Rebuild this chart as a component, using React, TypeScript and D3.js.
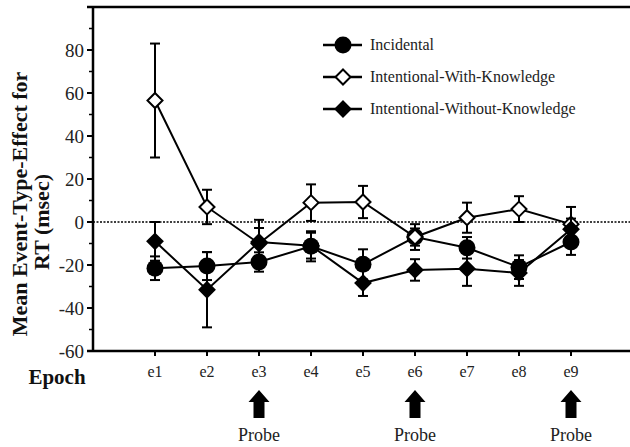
import React from "react";
import * as d3 from "d3";

const epochs = ["e1", "e2", "e3", "e4", "e5", "e6", "e7", "e8", "e9"];
const yTicks = [-60, -40, -20, 0, 20, 40, 60, 80];
const yMinorTicks = [-50, -30, -10, 10, 30, 50, 70, 90];
const probeEpochs = ["e3", "e6", "e9"];

const incidental = [-21.5, -20.5, -18.6, -11.3, -19.7, -7, -12, -21, -9.3];
const incidentalErr = [5.5, 6.5, 4.5, 7, 7, 4, 5, 5.5, 6];
const withKnowledge = [56.5, 7, -10, 9, 9.3, -7, 2, 6, -1];
const withKnowledgeErr = [26.5, 8, 11, 8.5, 7.5, 6, 7, 6, 8];
const withoutKnowledge = [-9, -31.5, -9.3, -11, -28.4, -22.3, -21.7, -23.7, -3.4];
const withoutKnowledgeErr = [9, 17.5, 6.5, 6, 6, 5, 8, 6, 5];

type Marker = "circle" | "openDiamond" | "diamond";
const series: { name: string; values: number[]; err: number[]; marker: Marker }[] = [
  { name: "Incidental", values: incidental, err: incidentalErr, marker: "circle" },
  { name: "Intentional-With-Knowledge", values: withKnowledge, err: withKnowledgeErr, marker: "openDiamond" },
  { name: "Intentional-Without-Knowledge", values: withoutKnowledge, err: withoutKnowledgeErr, marker: "diamond" },
];

const W = 630;
const H = 447;
const left = 93;
const top = 7;
const bottom = 351;

const x = d3.scalePoint<string>().domain(epochs).range([155, 571]);
const y = d3.scaleLinear().domain([-60, 100]).range([bottom, top]);

function MarkerShape({ type, cx, cy }: { type: Marker; cx: number; cy: number }) {
  if (type === "circle") return <circle cx={cx} cy={cy} r={8.5} fill="#000" />;
  const r = 7.5;
  const d = `M${cx},${cy - r}L${cx + r},${cy}L${cx},${cy + r}L${cx - r},${cy}Z`;
  return (
    <path
      d={d}
      fill={type === "openDiamond" ? "#fff" : "#000"}
      stroke="#000"
      strokeWidth={2}
    />
  );
}

export default function App() {
  const line = d3
    .line<number>()
    .x((_, i) => x(epochs[i])!)
    .y((v) => y(v));
  const serif = "Liberation Serif, Times New Roman, serif";
  const legendY = [45, 77, 109];
  return (
    <svg
      width={W}
      height={H}
      style={{ position: "absolute", left: 0, top: 0, background: "#fff" }}
      fontFamily={serif}
    >
      <rect width={W} height={H} fill="#fff" />
      {/* zero line */}
      <line x1={left} x2={W} y1={y(0)} y2={y(0)} stroke="#000" strokeWidth={1.5} strokeDasharray="2,1.5" />
      {/* frame */}
      <line x1={left - 6} x2={W} y1={top} y2={top} stroke="#000" strokeWidth={2.5} />
      <line x1={left} x2={left} y1={top} y2={bottom} stroke="#000" strokeWidth={2.5} />
      <line x1={left - 6} x2={W} y1={bottom} y2={bottom} stroke="#000" strokeWidth={2.5} />
      {/* y ticks */}
      {yTicks.map((t) => (
        <g key={t}>
          <line x1={left - 6} x2={left} y1={y(t)} y2={y(t)} stroke="#000" strokeWidth={2} />
          <text x={left - 9} y={y(t)} dy="0.35em" textAnchor="end" fontSize={19} fill="#222">
            {t}
          </text>
        </g>
      ))}
      {yMinorTicks.map((t) => (
        <line key={t} x1={left - 4} x2={left} y1={y(t)} y2={y(t)} stroke="#000" strokeWidth={1.5} />
      ))}
      {/* x ticks */}
      {epochs.map((e) => (
        <g key={e}>
          <line x1={x(e)!} x2={x(e)!} y1={bottom} y2={bottom + 5} stroke="#000" strokeWidth={2} />
          <text x={x(e)!} y={377} textAnchor="middle" fontSize={16} fill="#222">
            {e}
          </text>
        </g>
      ))}
      <text x={57} y={384} textAnchor="middle" fontSize={21} fontWeight="bold" fill="#111">
        Epoch
      </text>
      {/* y title */}
      <text
        transform={`translate(27,204) rotate(-90)`}
        textAnchor="middle"
        fontSize={22}
        fontWeight="bold"
        fill="#111"
      >
        Mean Event-Type-Effect for
      </text>
      <text
        transform={`translate(49,222) rotate(-90)`}
        textAnchor="middle"
        fontSize={22}
        fontWeight="bold"
        fill="#111"
      >
        RT (msec)
      </text>
      {/* series */}
      {series.map((s) => (
        <g key={s.name}>
          <path d={line(s.values)!} fill="none" stroke="#000" strokeWidth={2} />
          {s.values.map((v, i) => {
            const cx = x(epochs[i])!;
            const y1 = y(v + s.err[i]);
            const y2 = y(v - s.err[i]);
            return (
              <g key={i}>
                <line x1={cx} x2={cx} y1={y1} y2={y2} stroke="#000" strokeWidth={2} />
                <line x1={cx - 5} x2={cx + 5} y1={y1} y2={y1} stroke="#000" strokeWidth={2} />
                <line x1={cx - 5} x2={cx + 5} y1={y2} y2={y2} stroke="#000" strokeWidth={2} />
              </g>
            );
          })}
          {s.values.map((v, i) => (
            <MarkerShape key={i} type={s.marker} cx={x(epochs[i])!} cy={y(v)} />
          ))}
        </g>
      ))}
      {/* legend */}
      {series.map((s, i) => (
        <g key={s.name}>
          <line x1={323} x2={362} y1={legendY[i]} y2={legendY[i]} stroke="#000" strokeWidth={2.5} />
          <MarkerShape type={s.marker} cx={343} cy={legendY[i]} />
          <text x={370} y={legendY[i]} dy="0.33em" fontSize={16} fill="#222">
            {s.name}
          </text>
        </g>
      ))}
      {/* probe arrows */}
      {probeEpochs.map((e) => {
        const cx = x(e)!;
        const d = `M${cx},390L${cx + 10.5},402L${cx + 5.5},402L${cx + 5.5},418L${cx - 5.5},418L${cx - 5.5},402L${cx - 10.5},402Z`;
        return (
          <g key={e}>
            <path d={d} fill="#000" />
            <text x={cx} y={441} textAnchor="middle" fontSize={18} fill="#222">
              Probe
            </text>
          </g>
        );
      })}
    </svg>
  );
}
